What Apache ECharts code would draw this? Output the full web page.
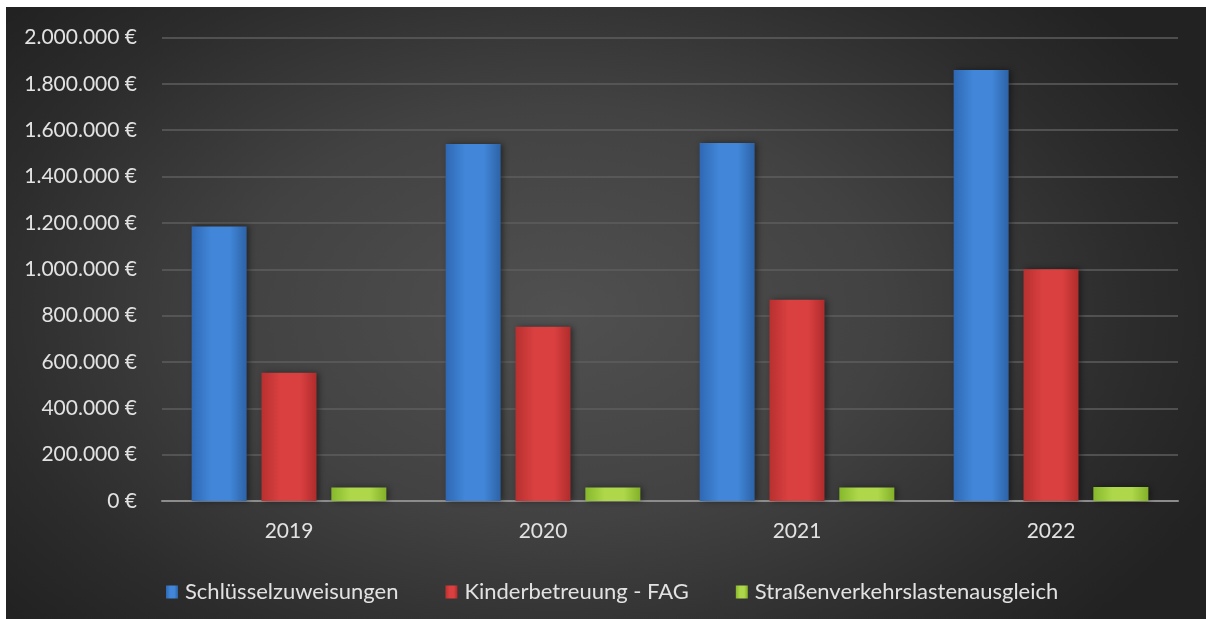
<!DOCTYPE html>
<html>
<head>
<meta charset="utf-8">
<script src="https://cdn.jsdelivr.net/npm/echarts@6/dist/echarts.min.js"></script>
<style>
  html, body { margin: 0; padding: 0; background: #ffffff; width: 1206px; height: 619px; overflow: hidden; }
  #chart {
    position: absolute; left: 6px; top: 7px; width: 1200px; height: 612px;
    background: radial-gradient(ellipse 60% 75% at 46% 50%, #505050 0%, #424242 45%, #2c2c2c 80%, #222222 100%);
  }
</style>
</head>
<body>
<div id="chart"></div>
<script>
const categories = ['2019', '2020', '2021', '2022'];
const seriesNames = ['Schlüsselzuweisungen', 'Kinderbetreuung - FAG', 'Straßenverkehrslastenausgleich'];
const schluesselzuweisungen = [1185000, 1540000, 1545000, 1860000];
const kinderbetreuung = [553000, 752000, 868000, 1000000];
const strassenverkehr = [58000, 58000, 58000, 60000];
const yTicks = { min: 0, max: 2000000, interval: 200000 };

function fmtEuro(v) {
  return String(Math.round(v)).replace(/\B(?=(\d{3})+(?!\d))/g, '.') + ' €';
}
function hGrad(edgeL, mid, edgeR) {
  return new echarts.graphic.LinearGradient(0, 0, 1, 0, [
    { offset: 0, color: edgeL },
    { offset: 0.35, color: mid },
    { offset: 0.7, color: mid },
    { offset: 1, color: edgeR }
  ]);
}
const fontFam = 'Lato, "Open Sans", sans-serif';
const textColor = '#e2e2e2';
const chart = echarts.init(document.getElementById('chart'), null, { renderer: 'canvas' });
const values = [schluesselzuweisungen, kinderbetreuung, strassenverkehr];
const colors = [
  hGrad('#2f68b4', '#4186d8', '#2d62a6'),
  hGrad('#b83030', '#db4040', '#b02c2c'),
  hGrad('#86b82c', '#aed84a', '#82b028')
];

chart.setOption({
  backgroundColor: 'transparent',
  animation: false,
  grid: { left: 156, right: 28, top: 30.5, bottom: 118, containLabel: false },
  legend: {
    left: 155, top: 569,
    itemWidth: 12, itemHeight: 13, itemGap: 47,
    icon: 'rect',
    textStyle: { color: textColor, fontSize: 22, fontFamily: fontFam, padding: [0, 0, 0, 2] },
    data: seriesNames
  },
  xAxis: {
    type: 'category',
    data: categories,
    axisLine: { show: true, lineStyle: { color: '#8c8c8c', width: 2 } },
    axisTick: { show: false },
    axisLabel: { color: textColor, fontSize: 21, fontFamily: fontFam, margin: 20 }
  },
  yAxis: {
    type: 'value',
    min: yTicks.min, max: yTicks.max, interval: yTicks.interval,
    axisLine: { show: false },
    axisTick: { show: false },
    splitLine: { lineStyle: { color: '#5e5e5e', width: 1.5 } },
    axisLabel: { color: textColor, fontSize: 21, fontFamily: fontFam, margin: 25, formatter: fmtEuro }
  },
  series: seriesNames.map((name, i) => ({
    name: name,
    type: 'bar',
    data: values[i],
    barWidth: 55,
    barGap: '27%',
    itemStyle: {
      color: colors[i],
      shadowColor: 'rgba(0,0,0,0.45)',
      shadowBlur: 6,
      shadowOffsetX: 2,
      shadowOffsetY: 0
    }
  }))
});
</script>
</body>
</html>
